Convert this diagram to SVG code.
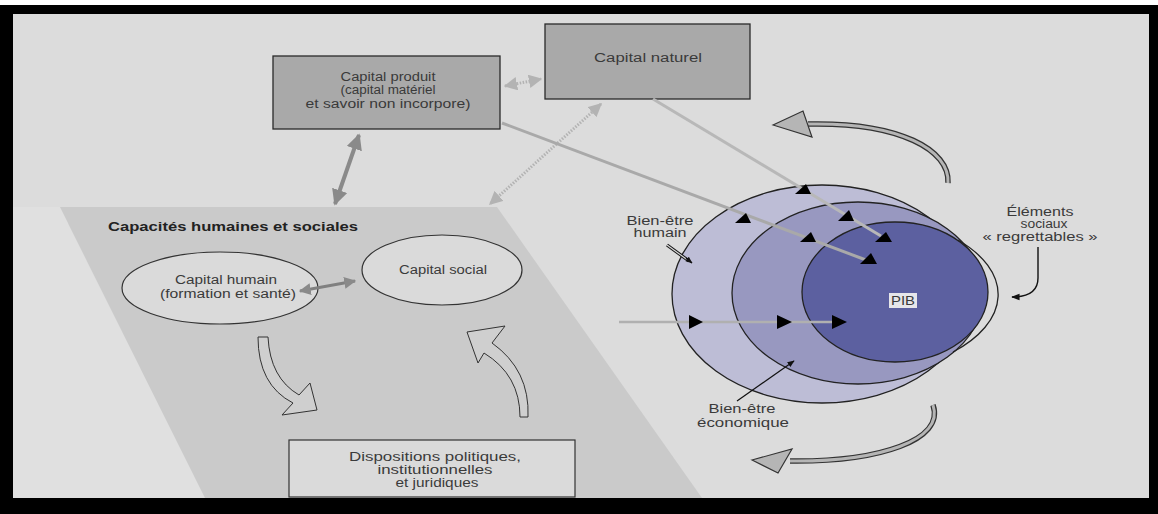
<svg xmlns="http://www.w3.org/2000/svg" width="1158" height="514" viewBox="0 0 1158 514">
<style>
.t{font-family:"Liberation Sans",Arial,sans-serif;font-size:12px;fill:#3a3a3a;text-anchor:middle}
.b{font-weight:bold;text-anchor:start;fill:#222}
.box{fill:#a9a9a9;stroke:#2a2a2a;stroke-width:1.3}
.ell{fill:#dadada;stroke:#333;stroke-width:1.2}
.blk{fill:#000}
</style>
<defs>
<marker id="gh" viewBox="0 0 10 10" refX="9" refY="5" markerWidth="4" markerHeight="4" orient="auto-start-reverse" markerUnits="strokeWidth"><path d="M0,0 L10,5 L0,10 Z" fill="#8a8a8a"/></marker>
<marker id="lh" viewBox="0 0 10 10" refX="9" refY="5" markerWidth="4.5" markerHeight="4.5" orient="auto-start-reverse" markerUnits="strokeWidth"><path d="M0,0 L10,5 L0,10 Z" fill="#b3b3b3"/></marker>
<marker id="sh" viewBox="0 0 10 10" refX="9" refY="5" markerWidth="6" markerHeight="6" orient="auto" markerUnits="strokeWidth"><path d="M0,1 L10,5 L0,9 Z" fill="#111"/></marker>
</defs>
<rect x="0" y="0" width="1158" height="514" fill="#fff"/>
<rect x="0" y="5" width="1158" height="509" fill="#000"/>
<rect x="13" y="14" width="1136" height="484" fill="#dcdcdc"/>
<polygon points="13,207 60,207 205,498 13,498" fill="#e0e0e0"/>
<polygon id="zone" points="60,207 497,207 702,498 205,498" fill="#cacaca"/>

<g id="bien-etre">
<ellipse cx="822" cy="294" rx="150" ry="109" fill="#bdbdd6" stroke="#222" stroke-width="1.3"/>
<ellipse cx="858" cy="293" rx="126" ry="91" fill="#9898c0" stroke="#222" stroke-width="1.3"/>
<ellipse cx="895" cy="292" rx="93" ry="70" fill="#5c60a0" stroke="#222" stroke-width="1.3"/>
<path d="M958,240 A158,82 0 0 1 953,352" fill="none" stroke="#222" stroke-width="1.3"/>
<rect x="889" y="293" width="28" height="15" fill="#e6e6ea"/>
<text class="t" x="903" y="305" textLength="24" lengthAdjust="spacingAndGlyphs">PIB</text>
</g>

<g id="capital-produit">
<rect class="box" x="273" y="56" width="227" height="73"/>
<text class="t" x="388" y="81" textLength="95" lengthAdjust="spacingAndGlyphs">Capital produit</text>
<text class="t" x="388" y="94" textLength="95" lengthAdjust="spacingAndGlyphs">(capital matériel</text>
<text class="t" x="388" y="108" textLength="165" lengthAdjust="spacingAndGlyphs">et savoir non incorpore)</text>
</g>
<g id="capital-naturel">
<rect class="box" x="545" y="24" width="205" height="75"/>
<text class="t" x="648" y="62" textLength="108" lengthAdjust="spacingAndGlyphs">Capital naturel</text>
</g>

<text id="capacites" class="t b" x="108" y="231" textLength="250" lengthAdjust="spacingAndGlyphs">Capacités humaines et sociales</text>

<g id="capital-humain">
<ellipse class="ell" cx="220" cy="288" rx="98" ry="36"/>
<text class="t" x="226" y="284" textLength="102" lengthAdjust="spacingAndGlyphs">Capital humain</text>
<text class="t" x="228" y="298" textLength="136" lengthAdjust="spacingAndGlyphs">(formation et santé)</text>
</g>
<g id="capital-social">
<ellipse class="ell" cx="442" cy="270" rx="80" ry="35"/>
<text class="t" x="443" y="274" textLength="88" lengthAdjust="spacingAndGlyphs">Capital social</text>
</g>
<g id="dispositions">
<rect x="289" y="440" width="286" height="57" fill="#dadada" stroke="#333" stroke-width="1.2"/>
<text class="t" x="435" y="461" textLength="172" lengthAdjust="spacingAndGlyphs">Dispositions politiques,</text>
<text class="t" x="435" y="474" textLength="115" lengthAdjust="spacingAndGlyphs">institutionnelles</text>
<text class="t" x="437" y="487" textLength="83" lengthAdjust="spacingAndGlyphs">et juridiques</text>
</g>

<g id="labels">
<text class="t" x="660" y="225" textLength="67" lengthAdjust="spacingAndGlyphs">Bien-être</text>
<text class="t" x="660" y="237" textLength="53" lengthAdjust="spacingAndGlyphs">humain</text>
<text class="t" x="742" y="413" textLength="67" lengthAdjust="spacingAndGlyphs">Bien-être</text>
<text class="t" x="743" y="427" textLength="92" lengthAdjust="spacingAndGlyphs">économique</text>
<text class="t" x="1040" y="216" textLength="67" lengthAdjust="spacingAndGlyphs">Éléments</text>
<text class="t" x="1044" y="228" textLength="47" lengthAdjust="spacingAndGlyphs">sociaux</text>
<text class="t" x="1040" y="241" textLength="115" lengthAdjust="spacingAndGlyphs">« regrettables »</text>
</g>

<g id="connectors">
<line x1="505" y1="86" x2="541" y2="79" stroke="#b3b3b3" stroke-width="3" stroke-dasharray="1.5 1.5" marker-start="url(#lh)" marker-end="url(#lh)"/>
<line x1="601" y1="104" x2="490" y2="204" stroke="#b3b3b3" stroke-width="3" stroke-dasharray="1.5 1.5" marker-start="url(#lh)" marker-end="url(#lh)"/>
<line x1="359" y1="135" x2="335" y2="204" stroke="#8a8a8a" stroke-width="4" marker-start="url(#gh)" marker-end="url(#gh)"/>
<line x1="300" y1="291" x2="355" y2="281" stroke="#808080" stroke-width="3" marker-start="url(#gh)" marker-end="url(#gh)"/>
<line x1="502" y1="123" x2="866" y2="260" stroke="#a9a9a9" stroke-width="3"/>
<line x1="653" y1="99" x2="881" y2="236" stroke="#b8b8b8" stroke-width="3"/>
<line x1="619" y1="322" x2="840" y2="322" stroke="#b0b0b0" stroke-width="2.5"/>
<g class="blk">
<polygon points="795,194 811,194 806,184"/>
<polygon points="735,223 751,223 746,213"/>
<polygon points="838,221 854,221 849,210"/>
<polygon points="800,242 816,242 811,232"/>
<polygon points="860,264 877,264 871,253"/>
<polygon points="875,242 892,242 886,232"/>
<polygon points="689,315 703,322 689,329"/>
<polygon points="777,315 792,322 777,329"/>
<polygon points="832,315 847,322 832,329"/>
</g>
<path d="M258,337 L268,337 Q270,378 299,395 L310,383 L317,410 L282,415 L293,403 Q258,385 258,337 Z" fill="#cfcfcf" stroke="#333" stroke-width="1"/>
<path d="M467,332 L505,326 L492,343 Q530,370 528,417 L520,417 Q520,375 484,353 L478,363 Z" fill="#cfcfcf" stroke="#333" stroke-width="1"/>
<path d="M948,183 C950,150 900,122 808,124" fill="none" stroke="#333" stroke-width="5.5"/>
<path d="M948,183 C950,150 900,122 808,124" fill="none" stroke="#b5b5b5" stroke-width="3"/>
<polygon points="773,125 803,111 812,137" fill="#b5b5b5" stroke="#333" stroke-width="1.2"/>
<path d="M933,405 C945,440 880,462 790,461" fill="none" stroke="#333" stroke-width="5.5"/>
<path d="M933,405 C945,440 880,462 790,461" fill="none" stroke="#b5b5b5" stroke-width="3"/>
<polygon points="752,460 792,449 778,473" fill="#b5b5b5" stroke="#333" stroke-width="1.2"/>
<line x1="667" y1="245" x2="689" y2="261" stroke="#111" stroke-width="3.2"/>
<line x1="667" y1="245" x2="689" y2="261" stroke="#d8d8d8" stroke-width="1.2"/>
<line x1="686" y1="258" x2="692" y2="263" stroke="#111" stroke-width="1.2" marker-end="url(#sh)"/>
<line x1="737" y1="401" x2="794" y2="361" stroke="#111" stroke-width="1.2" marker-end="url(#sh)"/>
<path d="M1038,247 L1038,278 Q1038,297 1012,297" fill="none" stroke="#111" stroke-width="1.4" marker-end="url(#sh)"/>
</g>
</svg>
